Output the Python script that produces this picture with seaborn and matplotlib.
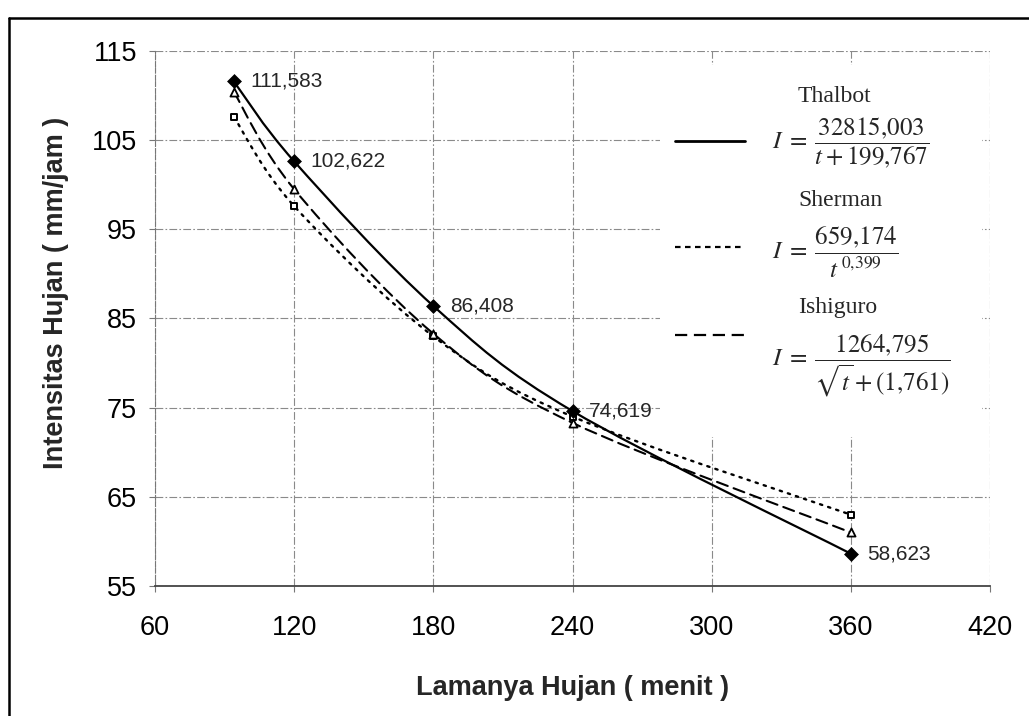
import numpy as np
import pandas as pd
import matplotlib
matplotlib.use("Agg")
import matplotlib.pyplot as plt
import seaborn as sns
from matplotlib.path import Path
from matplotlib.patches import PathPatch, Rectangle
from matplotlib.lines import Line2D

# Rainfall duration (minutes) and intensity (mm/jam) for three IDF formulas
durasi = [94, 120, 180, 240, 360]
thalbot = [111.583, 102.622, 86.408, 74.619, 58.623]
sherman = [107.6, 97.6, 83.0, 74.0, 63.0]
ishiguro = [110.4, 99.5, 83.3, 73.3, 61.0]

x_ticks = [60, 120, 180, 240, 300, 360, 420]
y_ticks = [55, 65, 75, 85, 95, 105, 115]

metode = ["Thalbot", "Sherman", "Ishiguro"]
rumus = [
    r"$I\;=\;\dfrac{32815{,}003}{t+199{,}767}$",
    r"$I\;=\;\dfrac{659{,}174}{t^{\,0{,}399}}$",
    r"$I\;=\;\dfrac{1264{,}795}{\sqrt{t}+(1{,}761)}$",
]

df = pd.DataFrame({
    "durasi": durasi * 3,
    "intensitas": thalbot + sherman + ishiguro,
    "metode": np.repeat(metode, len(durasi)),
})

sns.set_style("white")
plt.rcParams["font.family"] = ["Liberation Sans", "DejaVu Sans"]
plt.rcParams["mathtext.fontset"] = "stix"

W, H = 1029, 716
fig = plt.figure(figsize=(W / 100, H / 100), dpi=100)
ax = fig.add_axes([155 / W, 1 - 586 / H, 835 / W, 535 / H])


def fpos(x, y):
    return (x / W, 1 - y / H)


def smooth_path(xs, ys):
    """Cubic Bezier path through the points (Catmull-Rom style handles)."""
    pts = np.column_stack([xs, ys]).astype(float)
    n = len(pts)
    verts = [pts[0]]
    codes = [Path.MOVETO]
    for i in range(n - 1):
        p0 = pts[i - 1] if i > 0 else pts[i]
        p1, p2 = pts[i], pts[i + 1]
        p3 = pts[i + 2] if i + 2 < n else pts[i + 1]
        verts += [p1 + (p2 - p0) / 6, p2 - (p3 - p1) / 6, p2]
        codes += [Path.CURVE4] * 3
    return Path(verts, codes)


gaya = {
    "Thalbot": dict(ls="-", lw=1.6),
    "Sherman": dict(ls=(0, (1, 2.6)), lw=1.7),
    "Ishiguro": dict(ls=(0, (5.5, 3)), lw=1.5),
}
penanda = {
    "Thalbot": dict(marker="D", s=50, color="black", edgecolor="black", linewidth=0.5),
    "Sherman": dict(marker="s", s=20, color="white", edgecolor="black", linewidth=1.4),
    "Ishiguro": dict(marker="^", s=34, color="white", edgecolor="black", linewidth=1.3),
}

for m in ["Sherman", "Ishiguro", "Thalbot"]:
    sub = df[df["metode"] == m]
    ax.add_patch(PathPatch(smooth_path(sub["durasi"].values, sub["intensitas"].values),
                           facecolor="none", edgecolor="black",
                           linestyle=gaya[m]["ls"], lw=gaya[m]["lw"], zorder=3,
                           capstyle="round"))
    sns.scatterplot(data=sub, x="durasi", y="intensitas", ax=ax, zorder=4,
                    legend=False, **penanda[m])

# Value labels for the Thalbot series
for x, y in zip(durasi, thalbot):
    ax.annotate(f"{y:.3f}".replace(".", ","), (x, y), xytext=(12, 0),
                textcoords="offset points", ha="left", va="center",
                fontsize=15, zorder=5)

ax.set_xlim(60, 420)
ax.set_ylim(55, 115)
ax.set_xticks(x_ticks)
ax.set_yticks(y_ticks)
ax.grid(True, color="#8a8a8a", linestyle=(0, (7, 2, 1.5, 2)), lw=0.8)
ax.set_axisbelow(True)

for s in ["top", "right"]:
    ax.spines[s].set_visible(False)
ax.spines["left"].set_color("#777777")
ax.spines["left"].set_linestyle((0, (4, 2)))
ax.spines["left"].set_linewidth(0.8)
ax.spines["bottom"].set_color("#444444")
ax.spines["bottom"].set_linewidth(1.3)

ax.tick_params(axis="both", which="major", bottom=True, left=True, direction="out",
               length=4, width=0.8, color="#777777", labelsize=19.5, labelcolor="black")
ax.tick_params(axis="x", pad=17)
ax.tick_params(axis="y", pad=9)

ax.set_xlabel("Lamanya Hujan ( menit )", fontsize=19.5, fontweight="bold", va="center")
ax.set_ylabel("Intensitas Hujan ( mm/jam )", fontsize=19.5, fontweight="bold", va="center")
ax.xaxis.set_label_coords(0.5, -(688 - 586) / 535)
ax.yaxis.set_label_coords(-(155 - 56) / 835, (586 - 293) / 535)

# Legend panel with the formulas
ax.add_patch(Rectangle(fpos(660, 437), 322 / W, 372 / H, transform=fig.transFigure,
                       facecolor="white", edgecolor="none", zorder=1))

nama_y = [97, 201, 307]
rumus_y = [143, 253, 366]
sampel_y = [141, 247, 335]
for m, f, ny, ry, sy in zip(metode, rumus, nama_y, rumus_y, sampel_y):
    fig.text(*fpos(798, ny), m, family=["Liberation Serif", "DejaVu Serif"],
             fontsize=17, ha="left", va="center")
    fig.text(*fpos(772, ry), f, fontsize=18, ha="left", va="center")
    sty = gaya[m]
    fig.add_artist(Line2D([675 / W, 745 / W], [1 - sy / H] * 2, color="black",
                          linestyle=sty["ls"] if m != "Sherman" else (0, (2.5, 2)),
                          lw=1.6 if m != "Thalbot" else 2.0))

# Outer frame
fig.add_artist(Line2D([9 / W, 1.0], [1 - 18 / H] * 2, color="black", lw=1.8))
fig.add_artist(Line2D([9 / W] * 2, [0.0, 1 - 18 / H], color="black", lw=1.8))

fig.savefig("out.png", dpi=100)
